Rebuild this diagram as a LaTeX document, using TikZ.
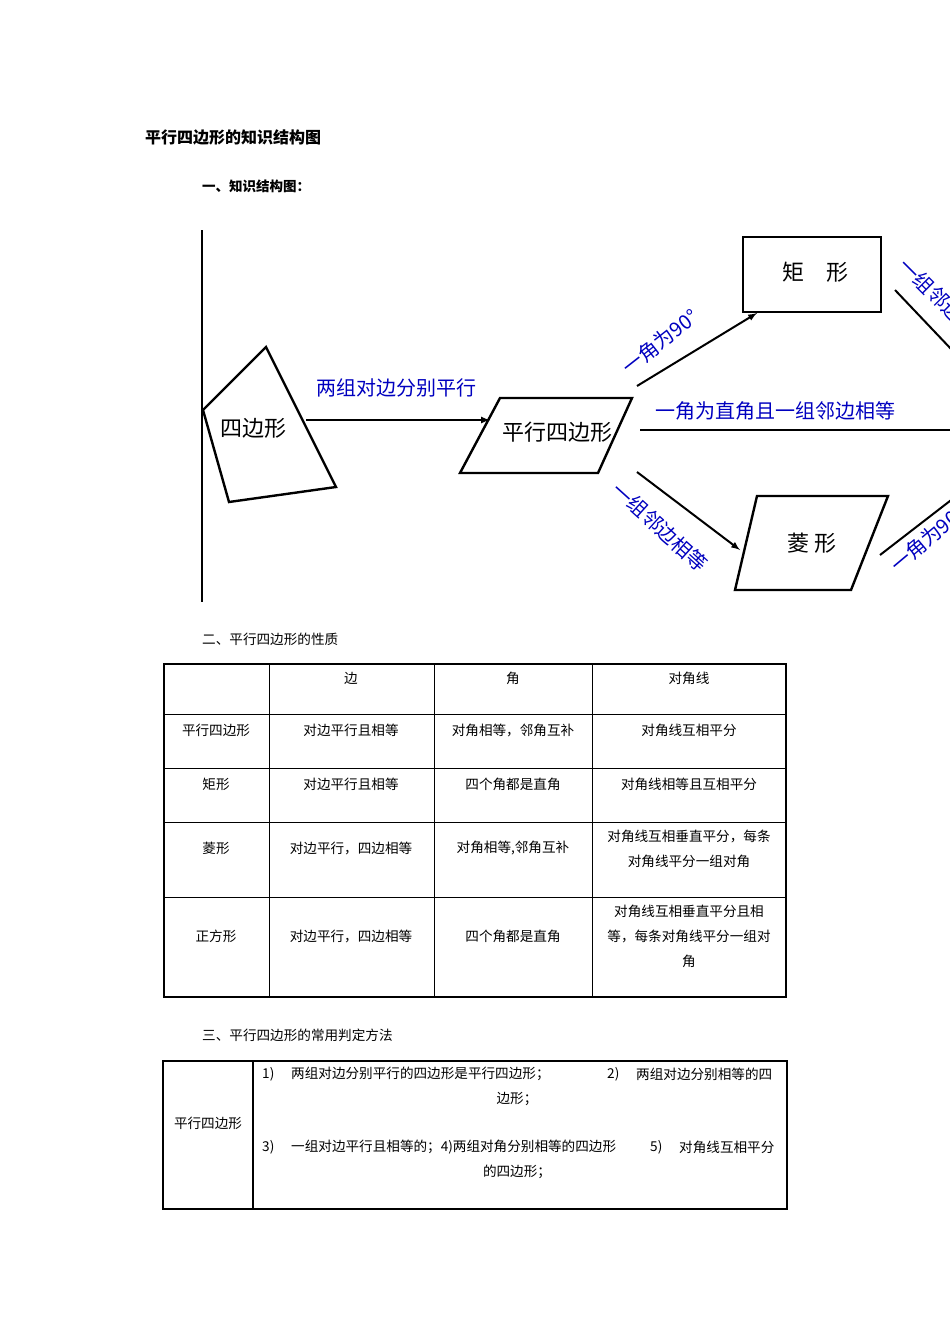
\documentclass[tikz,border=0pt]{standalone}
\usepackage{fontspec}
\setmainfont{Noto Sans CJK SC}
\begin{document}
\begin{tikzpicture}[x=1pt,y=-1pt,
  txt/.style={font=\fontsize{13.6}{15}\selectfont, inner sep=0pt},
  lbl/.style={font=\fontsize{20}{22}\selectfont, text=blue!75!black, inner sep=0pt},
  box/.style={font=\fontsize{22}{24}\selectfont, inner sep=0pt},
  arr/.style={-latex, line width=2pt},
  shp/.style={line width=2.4pt}]
\useasboundingbox (0,0) rectangle (950,1344);
\begin{scope}
\clip (0,0) rectangle (950,1344);
\node[txt, anchor=west, font=\fontsize{16}{18}\selectfont\bfseries] (title) at (145,137) {平行四边形的知识结构图};
\node[txt, anchor=west, font=\fontsize{13.5}{15}\selectfont\bfseries] (h1) at (202,186) {一、知识结构图：};
% diagram
\draw[line width=1.4pt] (202,230) -- (202,602);
\draw[shp] (203,410) -- (266,347) -- (336,487) -- (229,502) -- cycle;
\node[box] (q) at (253,428) {四边形};
\coordinate (qr) at (306,420);
\draw[shp] (500,398) -- (632,398) -- (598,473) -- (460,473) -- cycle;
\node[box] (p) at (557,432) {平行四边形};
\coordinate (pl) at (490,420);
\draw[arr] (qr) -- (pl);
\node[lbl] (l1) at (396,388) {两组对边分别平行};
\draw[shp] (743,237) rectangle (881,312);
\node[box] (r) at (815,272) {矩\quad 形};
\coordinate (pu) at (637,386); \coordinate (ru) at (757,313);
\draw[arr] (pu) -- (ru);
\node[lbl, rotate=38] (l2) at (660,342) {一角为90°};
\coordinate (pr) at (640,430); \coordinate (rr) at (960,430);
\draw[arr] (pr) -- (rr);
\node[lbl, anchor=west] (l3) at (655,411) {一角为直角且一组邻边相等};
\draw[shp] (757,496) -- (888,496) -- (851,590) -- (735,590) -- cycle;
\node[box] (h) at (812,543) {菱\ 形};
\coordinate (pd) at (637,472); \coordinate (hd) at (740,550);
\draw[arr] (pd) -- (hd);
\node[lbl, rotate=-42] (l4) at (660,527) {一组邻边相等};
\coordinate (ra) at (895,290); \coordinate (rb) at (990,390);
\draw[arr] (ra) -- (rb);
\node[lbl, rotate=-45, anchor=west] (l5) at (903,262) {一组邻边相等};
\coordinate (ha) at (880,555); \coordinate (hb) at (990,470);
\draw[arr] (ha) -- (hb);
\node[lbl, rotate=40, anchor=west] (l6) at (893,568) {一角为90°};
\end{scope}
% table 1
\node[txt, anchor=west] (h2) at (202,639) {二、平行四边形的性质};
\draw[line width=1.2pt] (164,664) rectangle (786,997);
\foreach \x in {269,434,592} \draw[line width=1pt] (\x,664) -- (\x,997);
\foreach \y in {714,768,822,897} \draw[line width=1pt] (164,\y) -- (786,\y);
\node[txt] (c1) at (351,678) {边};
\node[txt] (c2) at (513,678) {角};
\node[txt] (c3) at (689,678) {对角线};
\node[txt] (r1) at (216,730) {平行四边形};
\node[txt] (r1a) at (351,730) {对边平行且相等};
\node[txt] (r1b) at (513,730) {对角相等，邻角互补};
\node[txt] (r1c) at (689,730) {对角线互相平分};
\node[txt] (r2) at (216,784) {矩形};
\node[txt] (r2a) at (351,784) {对边平行且相等};
\node[txt] (r2b) at (513,784) {四个角都是直角};
\node[txt] (r2c) at (689,784) {对角线相等且互相平分};
\node[txt] (r3) at (216,848) {菱形};
\node[txt] (r3a) at (351,848) {对边平行，四边相等};
\node[txt] (r3b) at (513,848) {对角相等,邻角互补};
\node[txt] (r3c) at (689,836) {对角线互相垂直平分，每条};
\node[txt] (r3d) at (689,861) {对角线平分一组对角};
\node[txt] (r4) at (216,936) {正方形};
\node[txt] (r4a) at (351,936) {对边平行，四边相等};
\node[txt] (r4b) at (513,936) {四个角都是直角};
\node[txt] (r4c) at (689,911) {对角线互相垂直平分且相};
\node[txt] (r4d) at (689,936) {等，每条对角线平分一组对};
\node[txt] (r4e) at (689,961) {角};
% table 2
\node[txt, anchor=west] (h3) at (202,1035) {三、平行四边形的常用判定方法};
\draw[line width=1.4pt] (163,1061) rectangle (787,1209);
\draw[line width=1.4pt] (253,1061) -- (253,1209);
\node[txt] (t0) at (208,1123) {平行四边形};
\node[txt, anchor=west] (t1n) at (262,1074) {1)};
\node[txt, anchor=west] (t1) at (291,1074) {两组对边分别平行的四边形是平行四边形；};
\node[txt, anchor=west] (t1m) at (607,1074) {2)};
\node[txt, anchor=west] (t1b) at (636,1074) {两组对边分别相等的四};
\node[txt] (t2) at (517,1099) {边形；};
\node[txt, anchor=west] (t3n) at (262,1147) {3)};
\node[txt, anchor=west] (t3) at (291,1147) {一组对边平行且相等的；4)两组对角分别相等的四边形};
\node[txt, anchor=west] (t3m) at (650,1147) {5)};
\node[txt, anchor=west] (t3b) at (679,1147) {对角线互相平分};
\node[txt] (t4) at (517,1172) {的四边形；};
\end{tikzpicture}
\end{document}
